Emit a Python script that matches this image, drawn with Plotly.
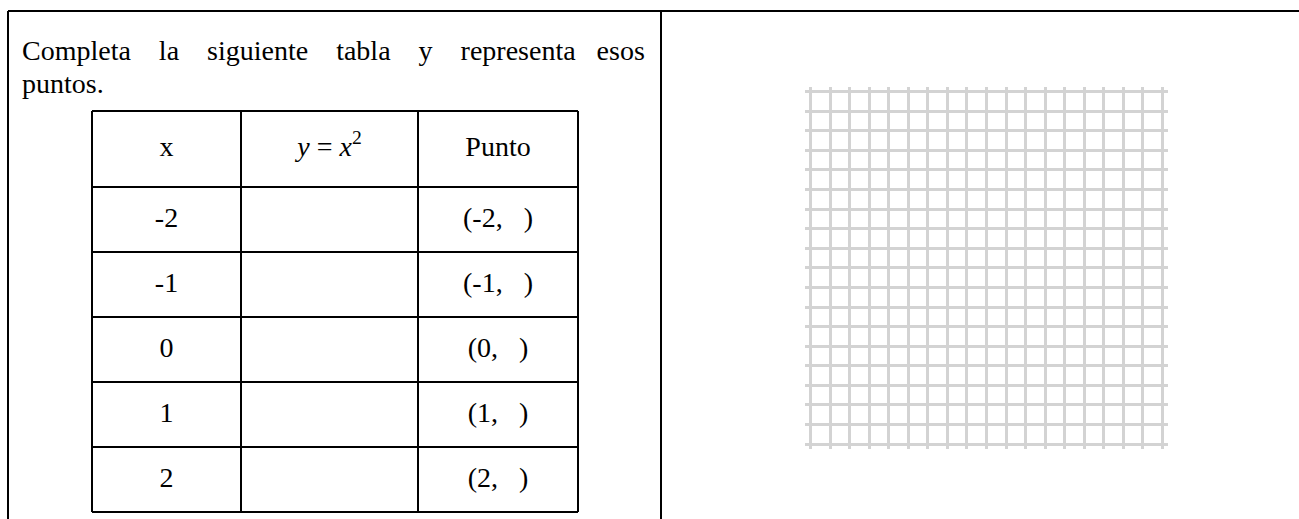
import plotly.graph_objects as go

# ---------------- data ----------------
x_values = [-2, -1, 0, 1, 2]
headers = ["x", "<i>y</i> = <i>x</i><sup>2</sup>", "Punto"]
point_labels = [f"({v},   )" for v in x_values]
instruction_words = ["Completa", "la", "siguiente", "tabla", "y", "representa", "esos"]
instruction_tail = "puntos."
grid_ticks = list(range(-9, 10))

# ---------------- style constants ----------------
W, H = 1299, 519
FONT = "Liberation Serif"
FS = 28
table_left = 92
col_widths = [149, 177, 160]
table_top = 111
header_h = 76
row_h = 65
frame_top = 11
frame_left = 8
divider_x = 661

fig = go.Figure()

# column and row boundaries derived from the data
col_edges = [table_left]
for w in col_widths:
    col_edges.append(col_edges[-1] + w)
row_edges = [table_top, table_top + header_h]
for _ in x_values:
    row_edges.append(row_edges[-1] + row_h)

# table lines
lx, ly = [], []
for yv in row_edges:
    lx += [col_edges[0], col_edges[-1], None]
    ly += [yv, yv, None]
for xv in col_edges:
    lx += [xv, xv, None]
    ly += [row_edges[0], row_edges[-1], None]
fig.add_trace(go.Scatter(x=lx, y=ly, mode="lines", line=dict(color="black", width=2),
                         hoverinfo="skip", showlegend=False, xaxis="x", yaxis="y"))

# table text
col_centers = [(col_edges[i] + col_edges[i + 1]) / 2 for i in range(3)]
row_centers = [(row_edges[i] + row_edges[i + 1]) / 2 for i in range(len(row_edges) - 1)]
tx, ty, tt = [], [], []
for c, h in enumerate(headers):
    tx.append(col_centers[c]); ty.append(row_centers[0]); tt.append(h)
for r, v in enumerate(x_values):
    tx.append(col_centers[0]); ty.append(row_centers[r + 1]); tt.append(str(v))
    tx.append(col_centers[2]); ty.append(row_centers[r + 1]); tt.append(point_labels[r])
fig.add_trace(go.Scatter(x=tx, y=ty, mode="text", text=tt, textposition="middle center",
                         textfont=dict(family=FONT, size=FS, color="black"),
                         hoverinfo="skip", showlegend=False, xaxis="x", yaxis="y"))

# invisible trace for the grid subplot
fig.add_trace(go.Scatter(x=[0], y=[0], mode="markers", marker=dict(opacity=0),
                         hoverinfo="skip", showlegend=False, xaxis="x2", yaxis="y2"))

# frame
shapes = [
    dict(type="line", xref="x", yref="y", x0=frame_left, x1=W, y0=frame_top, y1=frame_top,
         line=dict(color="black", width=2)),
    dict(type="line", xref="x", yref="y", x0=frame_left, x1=frame_left, y0=frame_top, y1=H,
         line=dict(color="black", width=2)),
    dict(type="line", xref="x", yref="y", x0=divider_x, x1=divider_x, y0=frame_top, y1=H,
         line=dict(color="black", width=2)),
]

# justified first line: wider gaps between words
gaps = ["    "] * (len(instruction_words) - 2) + ["   "]
line1 = instruction_words[0]
for g, w in zip(gaps, instruction_words[1:]):
    line1 += g + w

annotations = [
    dict(xref="x", yref="y", x=20, y=50, text=line1, showarrow=False,
         xanchor="left", yanchor="middle", font=dict(family=FONT, size=FS, color="black")),
    dict(xref="x", yref="y", x=20, y=83, text=instruction_tail, showarrow=False,
         xanchor="left", yanchor="middle", font=dict(family=FONT, size=FS, color="black")),
]

grid_axis = dict(tickvals=grid_ticks, showticklabels=False, ticks="",
                 showgrid=True, gridcolor="#d3d3d3", gridwidth=2.5, zeroline=False,
                 showline=False, fixedrange=True)

fig.update_layout(
    width=W, height=H,
    margin=dict(l=0, r=0, t=0, b=0),
    paper_bgcolor="white", plot_bgcolor="rgba(0,0,0,0)",
    xaxis=dict(domain=[0, 1], range=[0, W], visible=False, fixedrange=True),
    yaxis=dict(domain=[0, 1], range=[H, 0], visible=False, fixedrange=True),
    xaxis2=dict(domain=[805 / W, 1168 / W], anchor="y2", range=[-9.3, 9.3], **grid_axis),
    yaxis2=dict(domain=[1 - 449 / H, 1 - 86.7 / H], anchor="x2", range=[-9.25, 9.25], **grid_axis),
    shapes=shapes,
    annotations=annotations,
    showlegend=False,
)

fig.write_html("out.html", config={"displayModeBar": False},
               post_script="document.body.style.margin='0px';")
